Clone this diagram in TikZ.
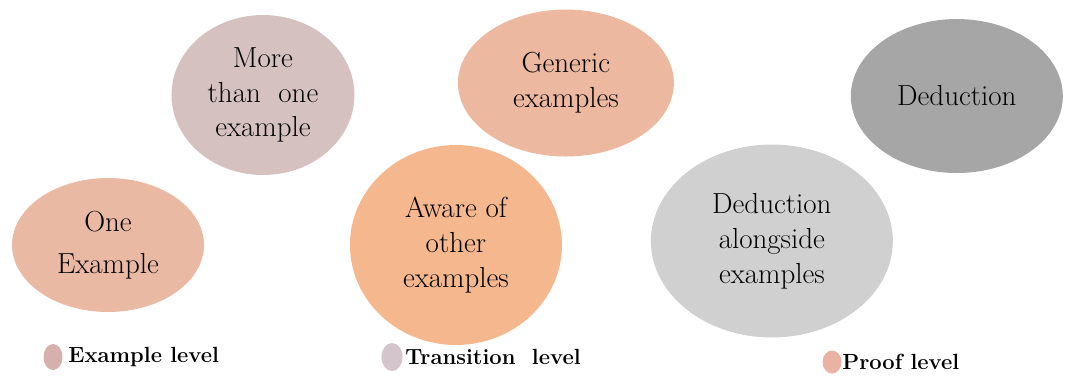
\documentclass[tikz,border=0pt]{standalone}
\usetikzlibrary{shapes.geometric,positioning}
\definecolor{peach}{RGB}{234,185,164}
\definecolor{mauve}{RGB}{214,193,193}
\definecolor{apricot}{RGB}{244,183,142}
\definecolor{salmon}{RGB}{236,184,160}
\definecolor{lightgrey}{RGB}{208,208,208}
\definecolor{darkgrey}{RGB}{166,166,166}
\definecolor{keyone}{RGB}{214,176,172}
\definecolor{keytwo}{RGB}{212,196,204}
\definecolor{keythree}{RGB}{234,178,162}

\begin{document}
\begin{tikzpicture}[x=0.02cm,y=0.02cm,on grid,
	blob/.style={ellipse,inner sep=0pt,align=center,font=\fontsize{16.5}{19.8}\selectfont},
	key/.style={ellipse,inner sep=0pt,minimum width=0.38cm,minimum height=0.52cm},
	keytext/.style={anchor=west,inner sep=0pt,font=\fontsize{12.5}{15}\selectfont\bfseries}]
			\useasboundingbox (0,0) rectangle (1085,-381);
			\node[blob, fill=peach, minimum width=3.84cm, minimum height=2.68cm] (one_ex) at (108,-245) {One\\[4pt]Example};
			\node[blob, fill=mauve, minimum width=3.66cm, minimum height=3.2cm] (more_ex) [above right=3cm and 3.1cm of one_ex] {More\\than\ \ one\\example};
			\node[blob, fill=apricot, minimum width=4.24cm, minimum height=4cm] (aware_ex) [right=6.96cm of one_ex] {Aware of\\other\\examples};
			\node[blob, fill=salmon, minimum width=4.32cm, minimum height=2.94cm] (generic_ex) [above right=3.24cm and 2.2cm of aware_ex] {Generic\\examples};
			\node[blob, fill=lightgrey, minimum width=4.84cm, minimum height=3.86cm] (deduct_ex) [above right=0.08cm and 6.32cm of aware_ex] {Deduction\\alongside\\examples};
			\node[blob, fill=darkgrey, minimum width=4.24cm, minimum height=3.08cm] (deduct) [above right=2.9cm and 3.7cm of deduct_ex] {Deduction};
			\node[key, fill=keyone] (k_1) at (53,-357) {};
			\node[key, fill=keytwo, minimum width=0.42cm, minimum height=0.56cm] (k_2) at (392,-357) {};
			\node[key, fill=keythree, minimum height=0.46cm] (k_3) at (832,-362) {};
			\node[keytext] (t_1) at (68,-357) {Example level};
			\node[keytext] (t_2) at (405,-357) {Transition\ \ level};
			\node[keytext] (t_3) at (842,-362) {Proof level};
		\end{tikzpicture}
\end{document}
